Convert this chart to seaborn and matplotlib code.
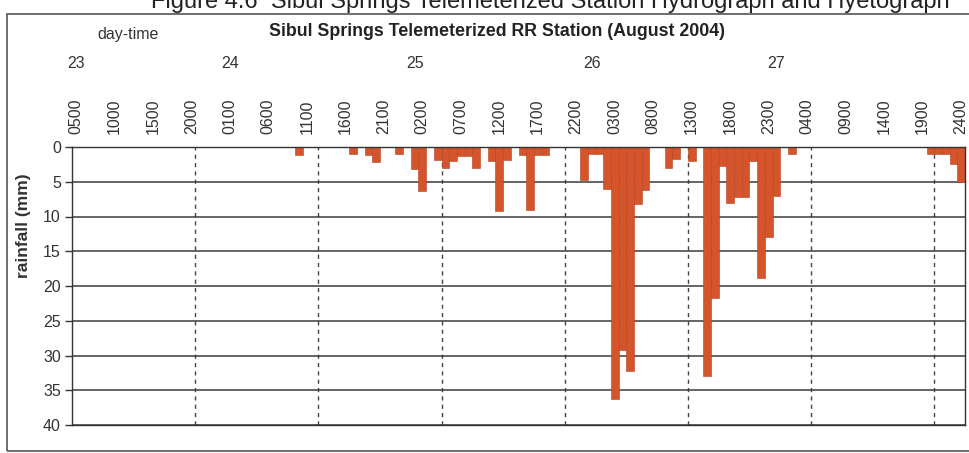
import matplotlib
matplotlib.use("Agg")
import matplotlib.pyplot as plt
import matplotlib.transforms as mtransforms
from matplotlib.patches import Rectangle
import pandas as pd
import seaborn as sns

# Hourly rainfall (mm), 23 Aug 2004 05:00 through 27 Aug 2004 24:00 (116 hours)
rainfall_mm = [
    0, 0, 0, 0, 0, 0, 0, 0, 0, 0, 0, 0, 0, 0, 0, 0,
    0, 0, 0, 0, 0, 0, 0, 0, 0, 0, 0, 0, 0, 1.2, 0, 0,
    0, 0, 0, 0, 1.0, 0, 1.2, 2.2, 0, 0, 1.0, 0, 3.2, 6.3, 0, 1.8,
    3.0, 2.0, 1.3, 1.3, 3.0, 0, 2.0, 9.2, 1.8, 0, 1.2, 9.0, 1.2, 1.2, 0, 0,
    0, 0, 4.8, 1.0, 1.0, 6.0, 36.3, 29.2, 32.2, 8.2, 6.2, 0, 0, 3.0, 1.7, 0,
    2.0, 0, 33.0, 21.7, 2.7, 8.0, 7.2, 7.2, 2.0, 18.8, 13.0, 7.0, 0, 1.0, 0, 0,
    0, 0, 0, 0, 0, 0, 0, 0, 0, 0, 0, 0, 0, 0, 0, 1.0,
    1.0, 1.0, 2.5, 5.0,
]

# Hour-of-day labels shown every fifth hour
tick_labels = ["0500", "1000", "1500", "2000", "0100", "0600", "1100", "1600",
               "2100", "0200", "0700", "1200", "1700", "2200", "0300", "0800",
               "1300", "1800", "2300", "0400", "0900", "1400", "1900", "2400"]

# Day-of-month labels
day_labels = ["23", "24", "25", "26", "27"]

hours = pd.date_range("2004-08-23 05:00", periods=len(rainfall_mm), freq="h")
hour_keys = [t.strftime("%d %H%M") for t in hours]
df = pd.DataFrame({"hour": hour_keys, "rainfall": rainfall_mm})

sns.set_theme(style="white")
plt.rcParams["font.family"] = ["Liberation Sans", "DejaVu Sans"]

W, H = 969, 453
fig = plt.figure(figsize=(W / 100, H / 100), dpi=100)
fig.patch.set_facecolor("white")

def fx(px):
    return px / W

def fy(py):
    return 1 - py / H

ax_left, ax_right, ax_top, ax_bottom = 72, 965, 147, 425
ax = fig.add_axes([fx(ax_left), fy(ax_bottom), fx(ax_right - ax_left),
                   (ax_bottom - ax_top) / H])

bar_color = "#D4542B"
sns.barplot(data=df, x="hour", y="rainfall", order=hour_keys, color=bar_color,
            saturation=1, width=1.0, edgecolor="#B5401C", linewidth=0.4,
            errorbar=None, ax=ax)

n = len(rainfall_mm)
ax.set_xlim(-0.5, n - 0.5)
ax.set_ylim(40, 0)
ax.set_axisbelow(True)

# x axis on top with rotated hour labels
ax.xaxis.tick_top()
ax.set_xticks(range(0, n, 5))
ax.set_xticklabels(tick_labels, rotation=90, fontsize=11.5, color="#333333")
ax.tick_params(axis="x", length=0, pad=9)
ax.set_xlabel("")

# y axis
ax.set_yticks(range(0, 41, 5))
ax.set_yticklabels([str(v) for v in range(0, 41, 5)], fontsize=11.5,
                   color="#333333")
ax.tick_params(axis="y", length=5, width=1, color="#333333", pad=3, left=True)
ax.set_ylabel("rainfall (mm)", fontsize=12.5, fontweight="bold", color="#333333")
ax.yaxis.set_label_coords(-(72 - 31) / (965 - 72), 1 - (226 - 147) / (425 - 147))

ax.yaxis.grid(True, color="#3a3a3a", linewidth=1.1)
ax.xaxis.grid(False)
for b in range(16, n, 16):
    ax.axvline(b - 0.5, color="#444444", linewidth=1.0,
               linestyle=(0, (3, 3)), zorder=0.5)

for side in ["left", "right", "top", "bottom"]:
    ax.spines[side].set_visible(True)
    ax.spines[side].set_color("#333333")
    ax.spines[side].set_linewidth(1.0)

# Day-of-month labels above the hour labels
blend = mtransforms.blended_transform_factory(ax.transData, fig.transFigure)
for lab, pos in zip(day_labels, [0, 20, 44, 67, 91]):
    fig.text(pos, fy(63), lab, transform=blend, ha="center", va="center",
             fontsize=11.5, color="#333333")

fig.text(fx(128), fy(34), "day-time", ha="center", va="center",
         fontsize=11.5, color="#333333")
fig.text(fx(497), fy(32), "Sibul Springs Telemeterized RR Station (August 2004)",
         ha="center", va="center", fontsize=12.8, fontweight="bold",
         color="#222222")

# Caption running off the top edge of the page
fig.text(fx(950), fy(8),
         "Figure 4.6  Sibul Springs Telemeterized Station Hydrograph and Hyetograph",
         ha="right", va="baseline", fontsize=17, color="#222222")

# Outer frame of the figure panel
fig.add_artist(Rectangle((fx(7), fy(451)), fx(975 - 7), (451 - 14) / H,
                         transform=fig.transFigure, fill=False,
                         edgecolor="#555555", linewidth=1.2))

fig.savefig("out.png", dpi=100, facecolor="white")
